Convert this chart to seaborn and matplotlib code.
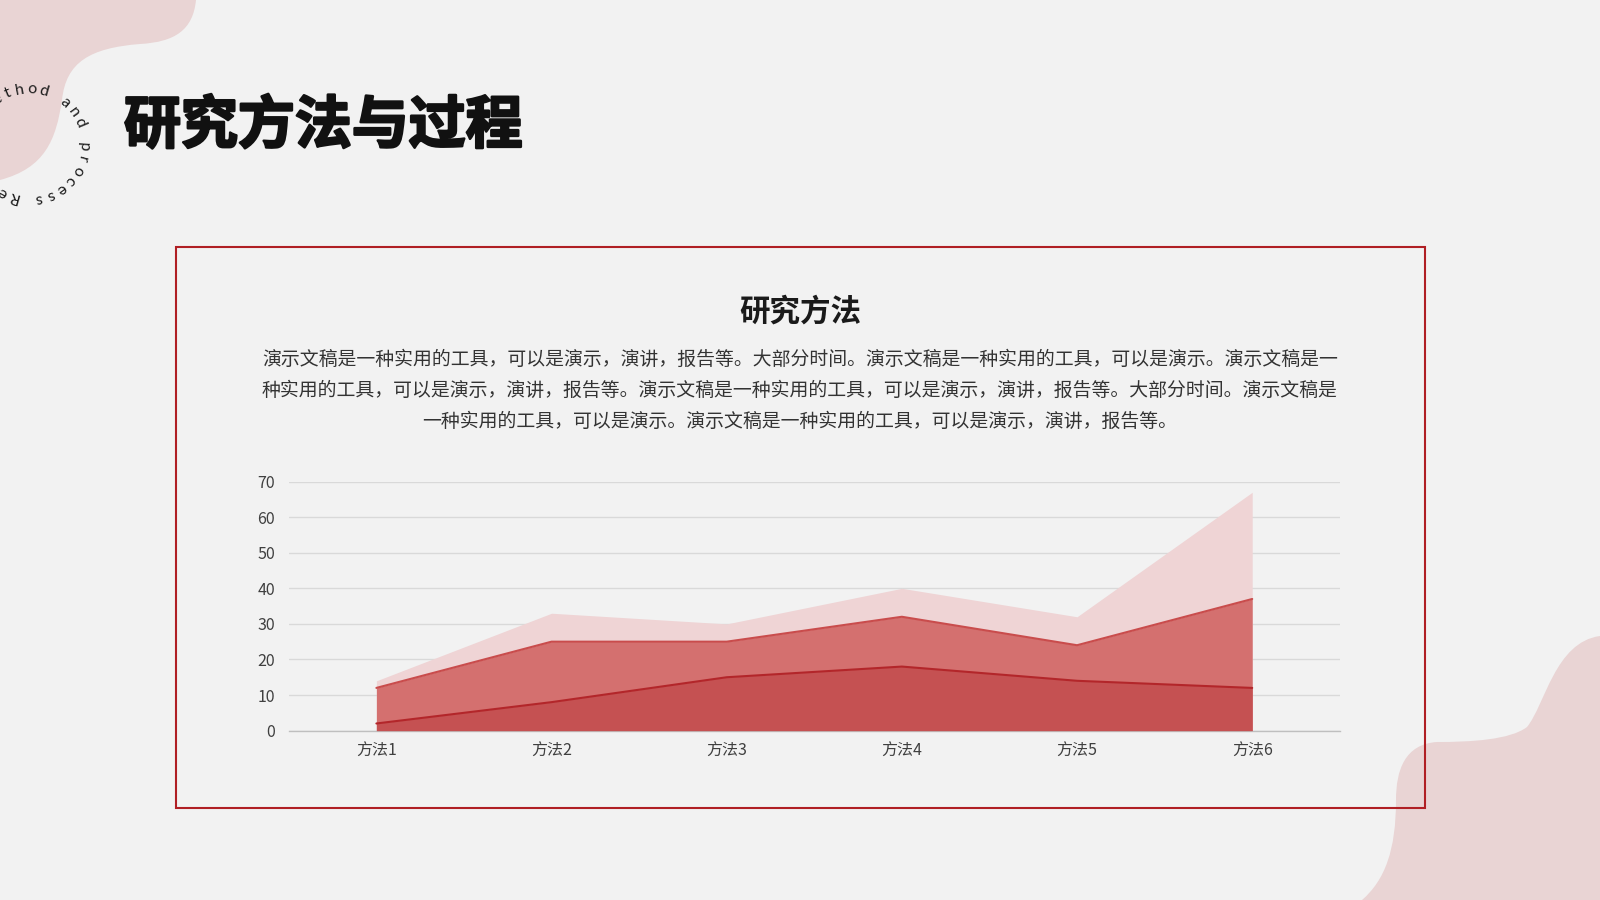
import numpy as np
import pandas as pd
import matplotlib.pyplot as plt
import seaborn as sns
import matplotlib.patheffects as pe
from matplotlib.path import Path
from matplotlib.patches import PathPatch, Rectangle

# chart data
categories = ["方法1", "方法2", "方法3", "方法4", "方法5", "方法6"]
series_back = [14, 33, 30, 40, 32, 67]
series_mid = [12, 25, 25, 32, 24, 37]
series_front = [2, 8, 15, 18, 14, 12]
y_ticks = [0, 10, 20, 30, 40, 50, 60, 70]

title = "研究方法与过程"
chart_title = "研究方法"
para_lines = [
    "演示文稿是一种实用的工具，可以是演示，演讲，报告等。大部分时间。演示文稿是一种实用的工具，可以是演示。演示文稿是一",
    "种实用的工具，可以是演示，演讲，报告等。演示文稿是一种实用的工具，可以是演示，演讲，报告等。大部分时间。演示文稿是",
    "一种实用的工具，可以是演示。演示文稿是一种实用的工具，可以是演示，演讲，报告等。",
]
ring_text = "Research Method and process "

BG = "#f2f2f2"
BLOB = "#e9d4d4"
RED = "#b01f24"

sns.set_theme(style="white", rc={"axes.facecolor": BG, "figure.facecolor": BG})
plt.rcParams["font.family"] = ["Noto Sans CJK SC", "DejaVu Sans"]

fig = plt.figure(figsize=(16, 9), dpi=100)

# background layer in pixel coords (y down)
bg = fig.add_axes([0, 0, 1, 1], zorder=0)
bg.set_xlim(0, 1600)
bg.set_ylim(900, 0)
bg.axis("off")

C = Path.CURVE4
blob_tl = Path(
    [(0, 0), (196, 0),
     (193, 30), (175, 42), (140, 44),
     (90, 48), (66, 62), (62, 100),
     (56, 140), (45, 168), (0, 180),
     (0, 0)],
    [Path.MOVETO, Path.LINETO, C, C, C, C, C, C, C, C, C, Path.CLOSEPOLY],
)
blob_br = Path(
    [(1600, 636),
     (1555, 642), (1545, 705), (1527, 727),
     (1510, 740), (1470, 742), (1437, 742),
     (1405, 744), (1396, 770), (1396, 800),
     (1396, 850), (1385, 880), (1362, 900),
     (1600, 900), (1600, 636)],
    [Path.MOVETO, C, C, C, C, C, C, C, C, C, C, C, C, Path.LINETO, Path.CLOSEPOLY],
)
bg.add_patch(PathPatch(blob_tl, fc=BLOB, ec="none", zorder=1))
bg.add_patch(PathPatch(blob_br, fc=BLOB, ec="none", zorder=1))

# ring text round the corner
cx, cy, r = 29, 144, 55
step = 360 / len(ring_text)
p_idx = ring_text.index("p", 20)
for i, ch in enumerate(ring_text):
    th = (i - p_idx) * step + 3
    t = np.deg2rad(th)
    bg.text(cx + r * np.cos(t), cy + r * np.sin(t), ch, rotation=-th - 90,
            rotation_mode="anchor", ha="center", va="center",
            fontsize=11.5, color="#1a1a1a", family=["Lato", "DejaVu Sans"], zorder=3)

bg.text(124, 126, title, ha="left", va="center", fontsize=41,
        fontweight="heavy", color="#111111", zorder=3,
        path_effects=[pe.withStroke(linewidth=1.8, foreground="#111111")])

bg.add_patch(Rectangle((175.5, 247), 1249, 561, fill=False, ec=RED, lw=1.5, zorder=4))

bg.text(800, 312, chart_title, ha="center", va="center", fontsize=22,
        fontweight="bold", color="#1a1a1a", zorder=3)
for k, line in enumerate(para_lines):
    bg.text(800, 359.5 + k * 31, line, ha="center", va="center", fontsize=13.6,
            color="#333333", zorder=3)

# area chart
ax = fig.add_axes([288.8 / 1600, 1 - 730.6 / 900, (1339.8 - 288.8) / 1600,
                   (730.6 - 481.6) / 900], zorder=2)
ax.patch.set_alpha(0)

df = pd.DataFrame({"cat": categories, "back": series_back,
                   "mid": series_mid, "front": series_front})
x = np.arange(len(df))

ax.fill_between(x, 0, df["back"], color="#efd4d5", lw=0, zorder=2)
ax.fill_between(x, 0, df["mid"], color="#d4706f", lw=0, zorder=3)
ax.fill_between(x, 0, df["front"], color="#c55152", lw=0, zorder=4)
sns.lineplot(x=x, y=df["mid"].values, color="#c94c4c", lw=1.5, ax=ax, zorder=5)
sns.lineplot(x=x, y=df["front"].values, color="#b3262a", lw=1.5, ax=ax, zorder=5)

ax.set_xlim(-0.5, len(df) - 0.5)
ax.set_ylim(0, 70)
ax.set_xticks(x)
ax.set_xticklabels(df["cat"])
ax.set_yticks(y_ticks)
ax.yaxis.grid(True, color="#d9d9d9", lw=1)
ax.xaxis.grid(False)
ax.set_axisbelow(True)
for s in ["left", "right", "top"]:
    ax.spines[s].set_visible(False)
ax.spines["bottom"].set_color("#bfbfbf")
ax.spines["bottom"].set_linewidth(1)
ax.tick_params(axis="both", length=0, labelsize=11.5, labelcolor="#404040")
ax.tick_params(axis="y", pad=10)
ax.tick_params(axis="x", pad=8.5)
ax.set_xlabel("")
ax.set_ylabel("")

fig.savefig("out.png", dpi=100, facecolor=BG)
